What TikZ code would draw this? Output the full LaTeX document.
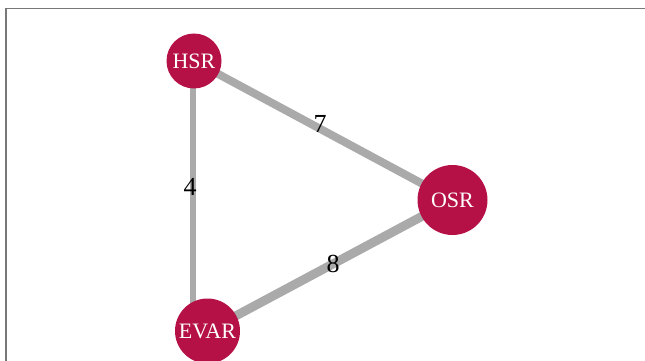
\documentclass[tikz,border=0pt]{standalone}
\usepackage{fontspec}
\setmainfont{Liberation Serif}
\definecolor{nodered}{RGB}{181,17,71}
\definecolor{edgegray}{RGB}{170,170,170}
\definecolor{framegray}{RGB}{120,120,120}
\tikzset{
  vert/.style={circle, fill=nodered, text=white, inner sep=0pt, font=\fontsize{22}{22}\selectfont},
  link/.style={draw=edgegray},
  wlabel/.style={font=\fontsize{26}{26}\selectfont, text=black, inner sep=0pt},
}
\begin{document}
\begin{tikzpicture}[x=1pt,y=-1pt]
\useasboundingbox (0,0) rectangle (645,361);
\clip (0,0) rectangle (645,361);
\draw[framegray, line width=1.3pt] (6,361) -- (6,8.5) -- (645,8.5);
\coordinate (hsrc) at (194,61);
\coordinate (osrc) at (452.5,200);
\coordinate (evarc) at (207.5,331);
\coordinate (vtop) at (193,61);
\coordinate (vbot) at (193,331);
\draw[link, line width=6pt] (vtop) -- (vbot);
\draw[link, line width=8pt] (hsrc) -- (osrc);
\draw[link, line width=9pt] (osrc) -- (evarc);
\node[vert, minimum size=55pt] (HSR) at (hsrc) {HSR};
\node[vert, minimum size=70pt] (OSR) at (osrc) {OSR};
\node[vert, minimum size=65pt] (EVAR) at (evarc) {EVAR};
\node[wlabel] (w4) at (190,187) {4};
\node[wlabel] (w7) at (320,124) {7};
\node[wlabel] (w8) at (333,264) {8};
\end{tikzpicture}
\end{document}
